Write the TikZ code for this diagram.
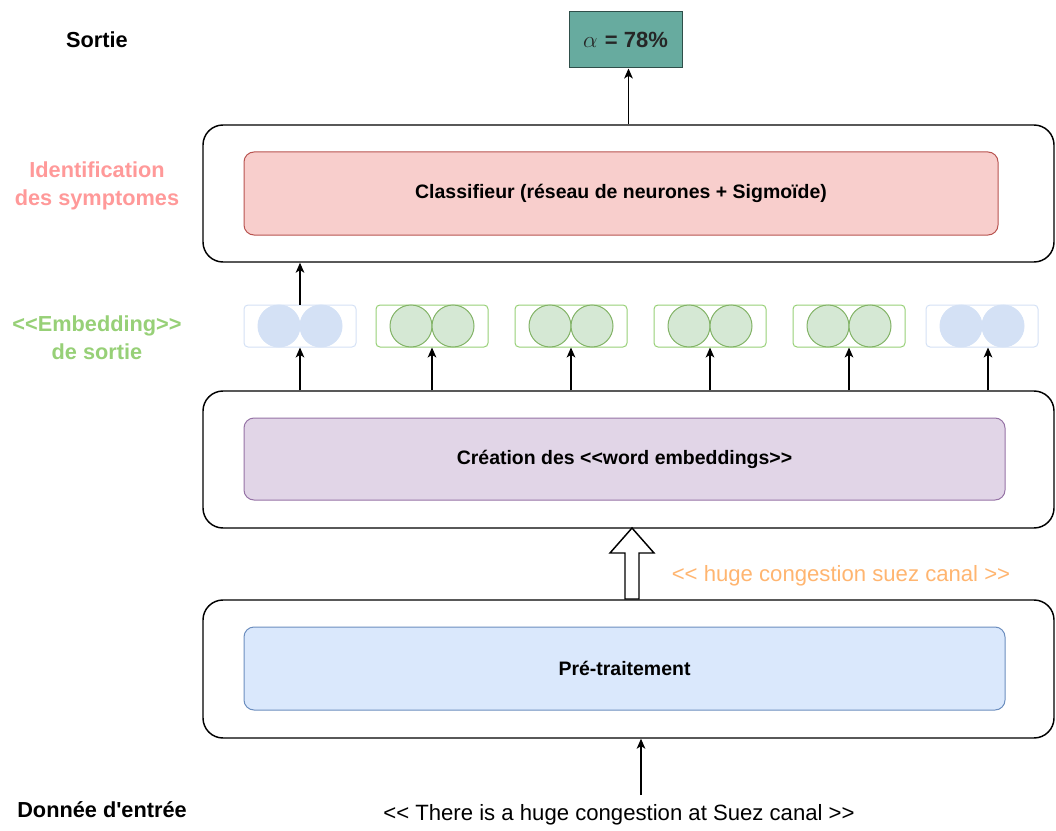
\documentclass[tikz,border=0pt]{standalone}
\usepackage{fontspec}
\setmainfont{Liberation Sans}[Ligatures=TeXOff]
\usetikzlibrary{arrows.meta}
\definecolor{outfill}{HTML}{67AB9F}
\definecolor{outdraw}{HTML}{2F4F4A}
\definecolor{redfill}{HTML}{F8CECC}
\definecolor{reddraw}{HTML}{B85450}
\definecolor{purfill}{HTML}{E1D5E7}
\definecolor{purdraw}{HTML}{9673A6}
\definecolor{blufill}{HTML}{DAE8FC}
\definecolor{bludraw}{HTML}{6C8EBF}
\definecolor{embblu}{HTML}{D4E1F5}
\definecolor{embgreen}{HTML}{97D077}
\definecolor{circgfill}{HTML}{D5E8D4}
\definecolor{circgdraw}{HTML}{82B366}
\definecolor{pinktxt}{HTML}{FF9999}
\definecolor{greentxt}{HTML}{97D077}
\definecolor{orangetxt}{HTML}{FFB570}
\begin{document}
\begin{tikzpicture}[x=0.75pt,y=-0.75pt,
  outer/.style={draw=black, line width=1.1pt, rounded corners=15pt, fill=white,
    minimum width=638.25pt, inner sep=0pt},
  inner/.style={line width=0.75pt, rounded corners=7.5pt, inner sep=0pt,
    font=\fontsize{14.6}{17}\selectfont\bfseries},
  embboxblue/.style={draw=embblu, line width=0.75pt, rounded corners=3pt,
    minimum width=84pt, minimum height=31.5pt, inner sep=0pt},
  embboxgreen/.style={draw=embgreen, line width=0.75pt, rounded corners=3pt,
    minimum width=84pt, minimum height=31.5pt, inner sep=0pt},
  circblue/.style={circle, fill=embblu, draw=embblu, line width=0.75pt,
    minimum size=31.5pt, inner sep=0pt},
  circgreen/.style={circle, fill=circgfill, draw=circgdraw, line width=0.75pt,
    minimum size=31.5pt, inner sep=0pt},
  arr/.style={line width=0.9pt, -{Stealth[length=7.5pt,width=6.5pt,inset=2pt]}},
  sidelabel/.style={align=center, font=\fontsize{16.3}{21}\selectfont\bfseries},
]
\useasboundingbox (0,0) rectangle (1056,831);

% output
\node[draw=outdraw, fill=outfill, line width=0.75pt, minimum width=84.75pt,
  minimum height=42pt, inner sep=0pt,
  font=\fontsize{16.5}{19}\selectfont\bfseries, text=black!85] (out) at (625.5,40)
  {$\alpha$\kern1pt{} = 78\%};

% side labels
\node[sidelabel] (lsortie) at (97,40) {Sortie};
\node[sidelabel, text=pinktxt] (lident) at (97,186) {Identification\\des symptomes};
\node[sidelabel, text=greentxt] (lemb) at (97,338) {<{}<Embedding>{}>\\de sortie};
\node[sidelabel] (lin) at (102,810) {Donnée d'entrée};

% top block
\node[outer, minimum height=102.75pt] (top) at (628.5,193.5) {};
\node[inner, draw=reddraw, fill=redfill, minimum width=565.5pt, minimum height=62.25pt]
  (cls) at (621,193.5) {Classifieur (réseau de neurones + Sigmoïde)};

% middle block
\node[outer, minimum height=102.75pt] (mid) at (628.5,459.5) {};
\node[inner, draw=purdraw, fill=purfill, minimum width=570.75pt, minimum height=61.5pt]
  (wemb) at (624.5,459) {Création des <{}<word embeddings>{}>};

% bottom block
\node[outer, minimum height=103.5pt] (bot) at (628.5,669) {};
\node[inner, draw=bludraw, fill=blufill, minimum width=570.75pt, minimum height=62.25pt]
  (pre) at (624.5,668.5) {Pré-traitement};

% embeddings
\foreach \i/\x/\c in {1/300/blue,2/432/green,3/571/green,4/710/green,5/849/green,6/982/blue} {
  \node[embbox\c] (e\i) at (\x,326) {};
  \node[circ\c] (e\i a) at (\x-21,326) {};
  \node[circ\c] (e\i b) at (\x+21,326) {};
}

% arrows
\foreach \i in {1,...,5} {
  \draw[arr] (e\i.south |- mid.north) -- (e\i.south);
}
\coordinate (e6in) at ([xshift=4.5pt]e6.south);
\draw[arr] (e6in |- mid.north) -- (e6in);
\draw[arr] (e1.north) -- (e1.north |- top.south);
\draw[arr] (top.north) -- (top.north |- out.south);

% input
\node[font=\fontsize{16.6}{20}\selectfont] (sent) at (619,815)
  {<{}< There is a huge congestion at Suez canal >{}>};
\coordinate (inp) at (641,795);
\draw[arr] (inp) -- (inp |- bot.south);

% hollow arrow
\draw[line width=1.1pt, fill=white]
  (625,599) -- (639,599) -- (639,553) -- (654,553) -- (632,528) -- (610,553) -- (625,553) -- cycle;
\node[font=\fontsize{16.6}{20}\selectfont, text=orangetxt] (proc) at (841,576)
  {<{}< huge congestion suez canal >{}>};
\end{tikzpicture}
\end{document}
